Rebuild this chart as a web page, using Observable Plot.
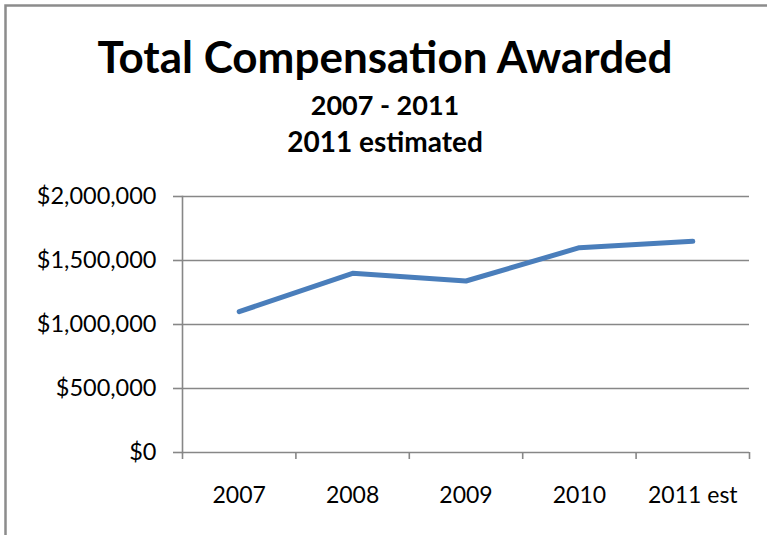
<!DOCTYPE html>
<html>
<head>
<meta charset="utf-8">
<script src="https://cdn.jsdelivr.net/npm/d3@7"></script>
<script src="https://cdn.jsdelivr.net/npm/@observablehq/plot@0.6"></script>
<style>
  html, body { margin: 0; padding: 0; background: white; }
  #chart { width: 767px; height: 535px; overflow: hidden; }
</style>
</head>
<body>
<div id="chart"></div>
<script>
const categories = ["2007", "2008", "2009", "2010", "2011 est"];
const values = [1100000, 1400000, 1340000, 1600000, 1650000];
const yTicks = [0, 500000, 1000000, 1500000, 2000000];
const titleText = "Total Compensation Awarded";
const subtitle1 = "2007 - 2011";
const subtitle2 = "2011 estimated";

const data = categories.map((c, i) => ({category: c, slot: i + 0.5, value: values[i]}));
const slotCenters = data.map(d => d.slot);
const slotEdges = d3.range(categories.length + 1);

const gray = "#878787";
const fmt = d => "$" + d3.format(",")(d);

const chart = Plot.plot({
  width: 767,
  height: 535,
  marginLeft: 182,
  marginRight: 18,
  marginTop: 196,
  marginBottom: 83,
  style: {fontFamily: "Lato, 'Open Sans', sans-serif", background: "white", color: "black"},
  x: {type: "linear", domain: [0, categories.length], label: null},
  y: {domain: [0, 2000000], label: null},
  marks: [
    Plot.ruleY(yTicks, {stroke: gray, strokeWidth: 1.6}),
    Plot.frame({anchor: "left", stroke: gray, strokeWidth: 1.6}),
    Plot.axisY({ticks: yTicks, tickSize: 9, tickPadding: 17, tickFormat: fmt, fontSize: 23.5, stroke: gray, strokeWidth: 1.6, fill: "black", label: null}),
    Plot.axisX({ticks: slotEdges, tickSize: 7, tickFormat: () => "", stroke: gray, strokeWidth: 1.6, label: null}),
    Plot.axisX({ticks: slotCenters, tickSize: 0, tickPadding: 34, tickFormat: d => categories[Math.round(d - 0.5)], fontSize: 23, fill: "black", label: null}),
    Plot.line(data, {x: "slot", y: "value", stroke: "#4a7ebb", strokeWidth: 5, strokeLinecap: "round", strokeLinejoin: "round"})
  ]
});

const svg = d3.select(chart);
svg.append("rect")
  .attr("x", 5.5).attr("y", 5.5).attr("width", 900).attr("height", 700)
  .attr("fill", "none").attr("stroke", "#8c8c8c").attr("stroke-width", 2.5);
svg.append("text").text(titleText)
  .attr("x", 385).attr("y", 73).attr("text-anchor", "middle")
  .attr("font-family", "Lato, sans-serif").attr("font-weight", "bold").attr("font-size", 44).attr("fill", "black");
svg.append("text").text(subtitle1)
  .attr("x", 385).attr("y", 115).attr("text-anchor", "middle")
  .attr("font-family", "Lato, sans-serif").attr("font-weight", "bold").attr("font-size", 27).attr("fill", "black");
svg.append("text").text(subtitle2)
  .attr("x", 385).attr("y", 152).attr("text-anchor", "middle")
  .attr("font-family", "Lato, sans-serif").attr("font-weight", "bold").attr("font-size", 28).attr("fill", "black");

document.getElementById("chart").appendChild(chart);
</script>
</body>
</html>
